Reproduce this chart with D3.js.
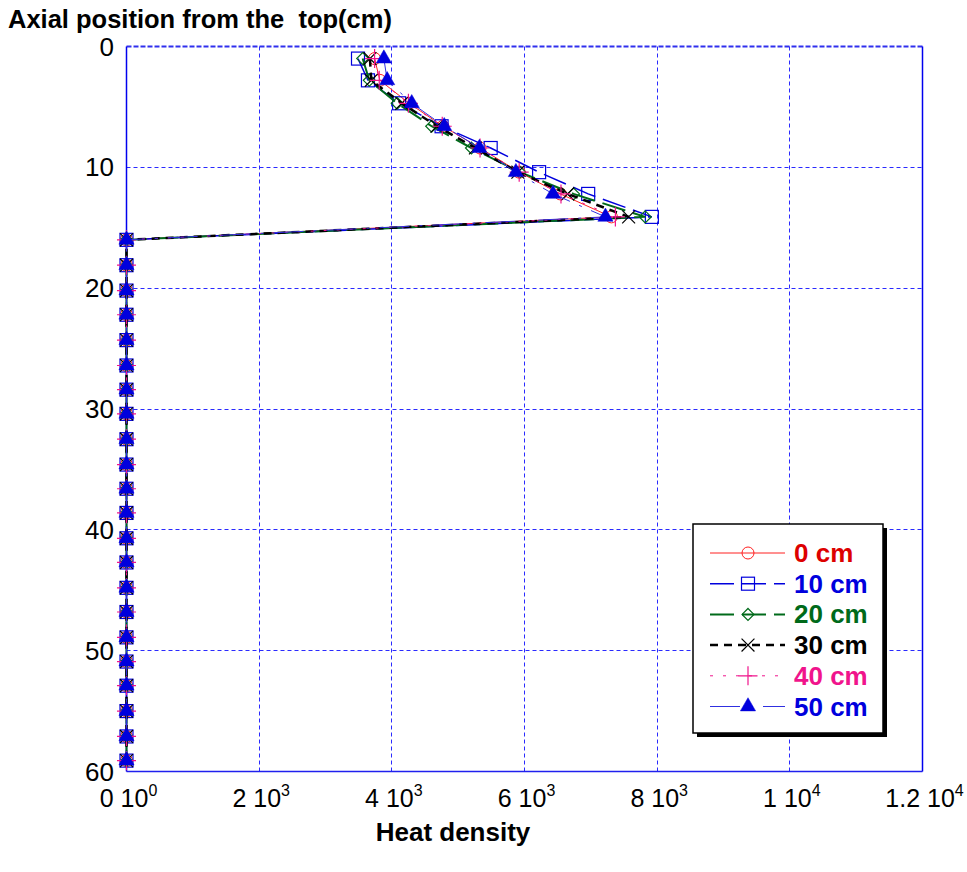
<!DOCTYPE html>
<html>
<head>
    <title>Heat density vs axial position</title>
    <script src="https://d3js.org/d3.v7.min.js"></script>
    <style>
        body { margin: 0; background: white; }
        text { font-family: "Liberation Sans", Arial, sans-serif; }
    </style>
</head>
<body>
    <svg id="chart" width="967" height="872"></svg>

    <script>
        // axial positions (cm from the top)
        var depth = [1.0, 2.8, 4.7, 6.6, 8.4, 10.4, 12.2, 14.1, 16.0, 18.1, 20.2, 22.2, 24.3, 26.4, 28.4,
            30.4, 32.5, 34.6, 36.6, 38.6, 40.7, 42.7, 44.8, 46.8, 48.9, 50.9, 52.9, 55.0, 57.1, 59.1];

        var zeros = [0, 0, 0, 0, 0, 0, 0, 0, 0, 0, 0, 0, 0, 0, 0, 0, 0, 0, 0, 0, 0, 0];

        var heat0 = [3740, 3820, 4260, 4770, 5330, 5920, 6540, 7310].concat(zeros);
        var heat10 = [3490, 3640, 4110, 4750, 5490, 6220, 6960, 7920].concat(zeros);
        var heat20 = [3560, 3660, 4080, 4600, 5200, 5930, 6740, 7820].concat(zeros);
        var heat30 = [3670, 3690, 4150, 4680, 5260, 5900, 6650, 7570].concat(zeros);
        var heat40 = [3740, 3810, 4250, 4760, 5330, 5920, 6550, 7370].concat(zeros);
        var heat50 = [3880, 3930, 4300, 4790, 5320, 5870, 6430, 7220].concat(zeros);

        var seriesNames = ["0 cm", "10 cm", "20 cm", "30 cm", "40 cm", "50 cm"];
        var seriesValues = [heat0, heat10, heat20, heat30, heat40, heat50];

        var xTicks = [0, 2000, 4000, 6000, 8000, 10000, 12000];
        var xTickMant = ["0", "2", "4", "6", "8", "1", "1.2"];
        var xTickExp = ["0", "3", "3", "3", "3", "4", "4"];
        var yTicks = [0, 10, 20, 30, 40, 50, 60];

        var styles = [
            { line: "#ff2020", text: "#dd0000", w: 1, dash: null, marker: "circle" },
            { line: "#0000dd", text: "#0000dd", w: 1.5, dash: "24,8", marker: "square" },
            { line: "#006a1a", text: "#006a1a", w: 2, dash: "24,8", marker: "diamond" },
            { line: "#000000", text: "#000000", w: 2.5, dash: "8,6", marker: "cross" },
            { line: "#f0148c", text: "#f0148c", w: 1, dash: "3,10", marker: "plus" },
            { line: "#3030e0", text: "#0000dd", w: 1, dash: "30,10,3,10", marker: "triangle" }
        ];

        var svg = d3.select("#chart");
        var pLeft = 126.5, pRight = 922.5, pTop = 46.5, pBottom = 771.5;

        var x = d3.scaleLinear([0, 12000], [pLeft, pRight]);
        var y = d3.scaleLinear([0, 60], [pTop, pBottom]);

        var crisp = v => Math.round(v - 0.5) + 0.5;

        // grid
        svg.append("g").selectAll("line")
            .data(xTicks.slice(1, -1)).enter()
            .append("line")
            .attr("x1", d => crisp(x(d))).attr("x2", d => crisp(x(d)))
            .attr("y1", pTop).attr("y2", pBottom)
            .attr("stroke", "#2a2aff").attr("stroke-width", 1)
            .attr("stroke-dasharray", "4,3");

        svg.append("g").selectAll("line")
            .data(yTicks.slice(1, -1)).enter()
            .append("line")
            .attr("x1", pLeft).attr("x2", pRight)
            .attr("y1", d => crisp(y(d))).attr("y2", d => crisp(y(d)))
            .attr("stroke", "#2a2aff").attr("stroke-width", 1)
            .attr("stroke-dasharray", "4,3");

        // frame
        svg.append("line").attr("x1", pLeft).attr("x2", pRight).attr("y1", pTop).attr("y2", pTop)
            .attr("stroke", "#3030ee").attr("stroke-width", 2).attr("stroke-dasharray", "5,2");
        svg.append("line").attr("x1", pLeft).attr("x2", pRight).attr("y1", pBottom).attr("y2", pBottom)
            .attr("stroke", "#2020ee").attr("stroke-width", 1.5);
        svg.append("line").attr("x1", pLeft).attr("x2", pLeft).attr("y1", pTop).attr("y2", pBottom)
            .attr("stroke", "#0000ee").attr("stroke-width", 1.5);
        svg.append("line").attr("x1", pRight).attr("x2", pRight).attr("y1", pTop).attr("y2", pBottom)
            .attr("stroke", "#0000ee").attr("stroke-width", 1.5);

        // y tick labels
        svg.append("g").selectAll("text")
            .data(yTicks).enter()
            .append("text")
            .attr("x", 114)
            .attr("y", d => y(d) + 9)
            .attr("text-anchor", "end")
            .style("font-size", "26px")
            .text(d => d);

        // x tick labels with exponent
        var xl = svg.append("g").selectAll("text")
            .data(xTicks).enter()
            .append("text")
            .attr("x", (d, i) => x(d) + 2)
            .attr("y", 807)
            .attr("text-anchor", "middle")
            .style("font-size", "25px");
        xl.append("tspan").text((d, i) => xTickMant[i] + " 10");
        xl.append("tspan").attr("dy", -11).style("font-size", "16px").text((d, i) => xTickExp[i]);

        // axis titles
        svg.append("text")
            .attr("x", 8).attr("y", 28)
            .style("font-size", "25.5px").style("font-weight", "bold")
            .style("white-space", "pre")
            .text("Axial position from the  top(cm)");

        svg.append("text")
            .attr("x", 453).attr("y", 841)
            .attr("text-anchor", "middle")
            .style("font-size", "26px").style("font-weight", "bold")
            .text("Heat density");

        function drawMarker(g, kind, color, cx, cy) {
            if (kind == "circle") {
                g.append("circle").attr("cx", cx).attr("cy", cy).attr("r", 6)
                    .attr("fill", "none").attr("stroke", color).attr("stroke-width", 1);
            } else if (kind == "square") {
                g.append("rect").attr("x", cx - 6.5).attr("y", cy - 6.5).attr("width", 13).attr("height", 13)
                    .attr("fill", "none").attr("stroke", color).attr("stroke-width", 1.2);
            } else if (kind == "diamond") {
                g.append("path").attr("d", d3.symbol(d3.symbolDiamond2, 90)())
                    .attr("transform", "translate(" + cx + "," + cy + ")")
                    .attr("fill", "none").attr("stroke", color).attr("stroke-width", 1.2);
            } else if (kind == "cross") {
                g.append("path").attr("d", d3.symbol(d3.symbolX, 110)())
                    .attr("transform", "translate(" + cx + "," + cy + ")")
                    .attr("fill", "none").attr("stroke", color).attr("stroke-width", 1.2);
            } else if (kind == "plus") {
                g.append("path").attr("d", d3.symbol(d3.symbolPlus, 120)())
                    .attr("transform", "translate(" + cx + "," + cy + ")")
                    .attr("fill", "none").attr("stroke", color).attr("stroke-width", 1.2);
            } else if (kind == "triangle") {
                g.append("path").attr("d", d3.symbol(d3.symbolTriangle, 100)())
                    .attr("transform", "translate(" + cx + "," + cy + ")")
                    .attr("fill", "#0000dd").attr("stroke", "#0000dd").attr("stroke-width", 0.5);
            }
        }

        // series lines and markers
        var line = d3.line().x(d => x(d[0])).y(d => y(d[1]));

        seriesValues.forEach((vals, s) => {
            var st = styles[s];
            var pts = vals.map((v, i) => [v, depth[i]]);
            var g = svg.append("g");
            g.append("path")
                .attr("d", line(pts))
                .attr("fill", "none")
                .attr("stroke", st.line)
                .attr("stroke-width", st.w)
                .attr("stroke-dasharray", st.dash);
            pts.forEach(p => drawMarker(g, st.marker, st.line, x(p[0]), y(p[1])));
        });

        // legend
        var lg = svg.append("g");
        lg.append("rect").attr("x", 697).attr("y", 528).attr("width", 190).attr("height", 209)
            .attr("fill", "black");
        lg.append("rect").attr("x", 693).attr("y", 524).attr("width", 190).attr("height", 209)
            .attr("fill", "white").attr("stroke", "black").attr("stroke-width", 1.5);

        seriesNames.forEach((name, s) => {
            var st = styles[s];
            var ly = 553 + s * 30.7;
            lg.append("line").attr("x1", 710).attr("x2", 785).attr("y1", ly).attr("y2", ly)
                .attr("stroke", st.line).attr("stroke-width", st.w)
                .attr("stroke-dasharray", st.dash);
            drawMarker(lg, st.marker, st.line, 748, ly);
            lg.append("text")
                .attr("x", 794).attr("y", ly + 9)
                .attr("fill", st.text)
                .style("font-size", "26px").style("font-weight", "bold")
                .text(name);
        });
    </script>
</body>
</html>
